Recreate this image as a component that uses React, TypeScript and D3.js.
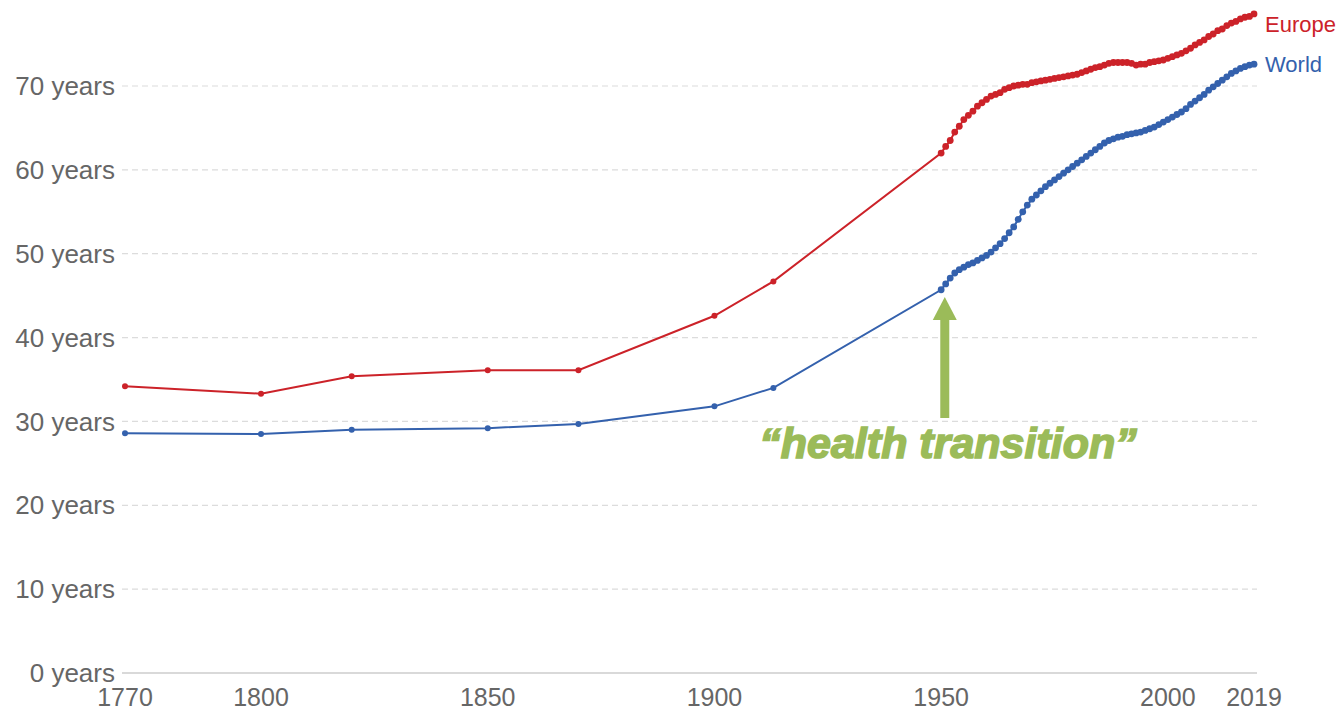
import React from "react";
import * as d3 from "d3";

// sparse historical estimates, then annual from 1950
const earlyYears = [1770, 1800, 1820, 1850, 1870, 1900, 1913];
const europeEarly = [34.2, 33.3, 35.4, 36.1, 36.1, 42.6, 46.7];
const worldEarly = [28.6, 28.5, 29.0, 29.2, 29.7, 31.8, 34.0];

const europeAnnual = [
  62.0, 62.8, 63.5, 64.5, 65.2, 66.0, 66.5, 67.0, 67.6, 68.0,
  68.4, 68.8, 69.0, 69.2, 69.6, 69.8, 70.0, 70.1, 70.2, 70.2,
  70.4, 70.5, 70.6, 70.7, 70.8, 70.9, 71.0, 71.1, 71.2, 71.3,
  71.4, 71.6, 71.8, 72.0, 72.2, 72.3, 72.5, 72.7, 72.8, 72.8,
  72.8, 72.8, 72.7, 72.5, 72.6, 72.6, 72.8, 72.9, 73.0, 73.1,
  73.3, 73.5, 73.7, 73.9, 74.2, 74.5, 74.9, 75.2, 75.5, 75.9,
  76.2, 76.6, 76.8, 77.2, 77.5, 77.7, 78.0, 78.2, 78.3, 78.6,
];
const worldAnnual = [
  45.7, 46.4, 47.1, 47.7, 48.1, 48.4, 48.7, 48.9, 49.2, 49.5,
  49.8, 50.2, 50.7, 51.2, 51.8, 52.5, 53.2, 54.1, 55.0, 55.8,
  56.5, 57.0, 57.5, 58.0, 58.4, 58.8, 59.2, 59.6, 60.0, 60.4,
  60.8, 61.2, 61.6, 62.0, 62.4, 62.8, 63.2, 63.5, 63.7, 63.9,
  64.0, 64.2, 64.3, 64.4, 64.5, 64.7, 64.9, 65.1, 65.4, 65.7,
  66.0, 66.3, 66.6, 66.9, 67.3, 67.8, 68.2, 68.6, 69.0, 69.5,
  69.9, 70.3, 70.7, 71.1, 71.5, 71.8, 72.1, 72.3, 72.5, 72.6,
];
const annualYears = d3.range(1950, 2020);

const xTicks = [1770, 1800, 1850, 1900, 1950, 2000, 2019];
const yTicks = [0, 10, 20, 30, 40, 50, 60, 70];

const series = [
  { name: "Europe", color: "#cc2229", early: europeEarly, annual: europeAnnual, labelShift: 10 },
  { name: "World", color: "#3461ad", early: worldEarly, annual: worldAnnual, labelShift: 0 },
];

const W = 1340;
const H = 710;

export default function App() {
  const x = d3.scaleLinear().domain([1770, 2019]).range([125, 1254]);
  const y = d3.scaleLinear().domain([0, 70]).range([673, 86]);

  const line = d3
    .line<{ year: number; v: number }>()
    .x((d) => x(d.year))
    .y((d) => y(d.v));

  const font = "'Liberation Sans', Arial, sans-serif";
  const arrowX = x(1950.8);
  const green = "#9bbb59";

  return (
    <svg
      width={W}
      height={H}
      style={{ position: "absolute", left: 0, top: 0, background: "#fff" }}
      fontFamily={font}
    >
      {yTicks.map((t) => (
        <g key={t}>
          {t > 0 && (
            <line
              x1={122}
              x2={1257}
              y1={y(t)}
              y2={y(t)}
              stroke="#dcdcdc"
              strokeWidth={1.2}
              strokeDasharray="6,4"
            />
          )}
          <text
            x={115}
            y={y(t)}
            dy="0.35em"
            textAnchor="end"
            fontSize={26}
            fill="#666"
          >
            {t} years
          </text>
        </g>
      ))}
      <line x1={122} x2={1257} y1={y(0)} y2={y(0)} stroke="#cccccc" strokeWidth={1.5} />
      {xTicks.map((t) => (
        <text
          key={t}
          x={x(t)}
          y={706}
          textAnchor="middle"
          fontSize={25}
          fill="#666"
        >
          {t}
        </text>
      ))}

      {series.map((s) => {
        const early = earlyYears.map((year, i) => ({ year, v: s.early[i] }));
        const annual = annualYears.map((year, i) => ({ year, v: s.annual[i] }));
        const all = early.concat(annual);
        const last = annual[annual.length - 1];
        return (
          <g key={s.name}>
            <path d={line(all) ?? ""} fill="none" stroke={s.color} strokeWidth={2} />
            {early.map((d) => (
              <circle key={"e" + d.year} cx={x(d.year)} cy={y(d.v)} r={3} fill={s.color} />
            ))}
            {annual.map((d) => (
              <circle key={"a" + d.year} cx={x(d.year)} cy={y(d.v)} r={3.4} fill={s.color} />
            ))}
            <text
              x={x(last.year) + 11}
              y={y(last.v) + s.labelShift}
              dy="0.35em"
              fontSize={22}
              fill={s.color}
            >
              {s.name}
            </text>
          </g>
        );
      })}

      {/* annotation */}
      <rect x={arrowX - 4.5} y={318} width={9} height={100} fill={green} />
      <path
        d={`M${arrowX},${297} L${arrowX + 12},${320} L${arrowX - 12},${320} Z`}
        fill={green}
      />
      <text
        x={948}
        y={458}
        textAnchor="middle"
        fontSize={43}
        fontWeight="bold"
        fontStyle="italic"
        fill={green}
        stroke={green}
        strokeWidth={1.6}
      >
        “health transition”
      </text>
    </svg>
  );
}
